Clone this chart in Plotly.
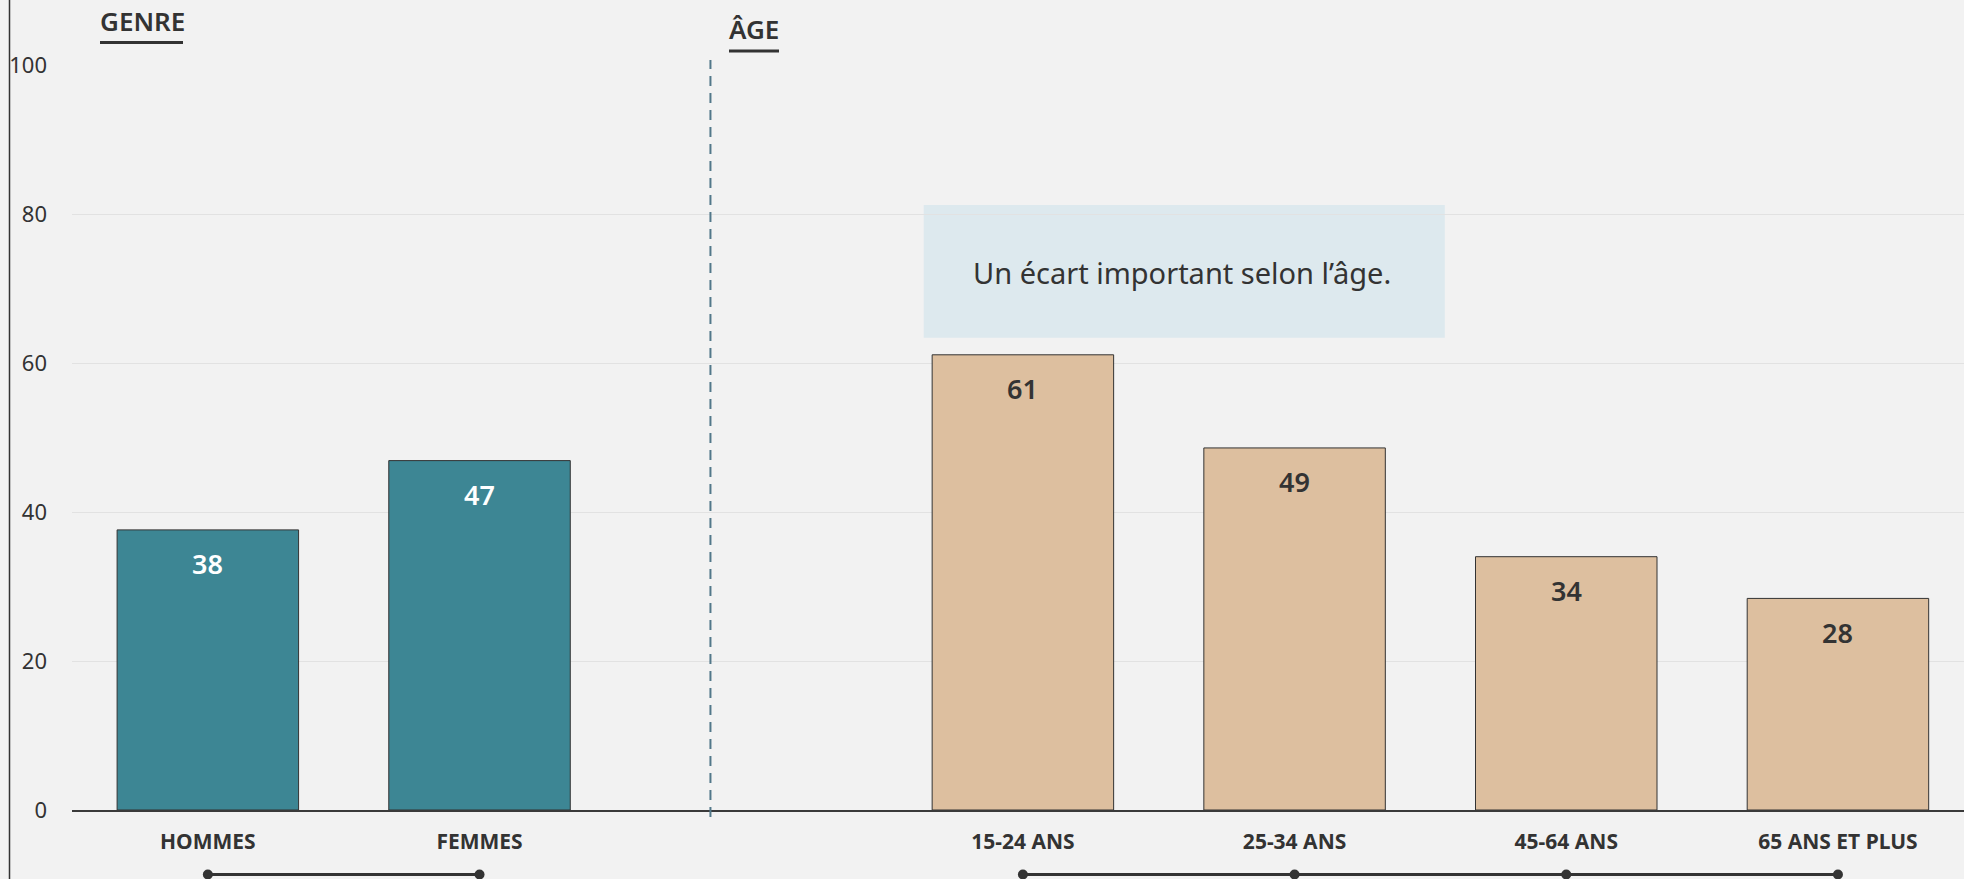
import plotly.graph_objects as go

# ---- data ----
gender_labels = ["HOMMES", "FEMMES"]
gender_values = [37.6, 46.9]
age_labels = ["15-24 ANS", "25-34 ANS", "45-64 ANS", "65 ANS ET PLUS"]
age_values = [61.1, 48.6, 34.0, 28.4]
y_ticks = [0, 20, 40, 60, 80, 100]
note_text = "Un écart important selon l’âge."

gender_pos = [0, 1]
age_pos = [3, 4, 5, 6]
sep_pos = 1.85

TEAL = "#3d8694"
BEIGE = "#ddbf9f"
DARK = "#333333"
BG = "#f2f2f2"
FONT = "Noto Sans"

W, H = 1964, 879
ML, MR, MT, MB = 72, 0, 65, 69
XR = [-0.5, 6.464]

fig = go.Figure()
fig.add_trace(go.Bar(x=gender_pos, y=gender_values, width=0.668,
                     marker=dict(color=TEAL, line=dict(color=DARK, width=1)),
                     hoverinfo="skip", showlegend=False))
fig.add_trace(go.Bar(x=age_pos, y=age_values, width=0.668,
                     marker=dict(color=BEIGE, line=dict(color=DARK, width=1)),
                     hoverinfo="skip", showlegend=False))

ann = []
for p, v in zip(gender_pos, gender_values):
    ann.append(dict(x=p, y=v, xref="x", yref="y", text=f"{v:.0f}", showarrow=False,
                    yanchor="middle", yshift=-34,
                    font=dict(family=FONT, size=27, color="white", weight=600)))
for p, v in zip(age_pos, age_values):
    ann.append(dict(x=p, y=v, xref="x", yref="y", text=f"{v:.0f}", showarrow=False,
                    yanchor="middle", yshift=-34,
                    font=dict(family=FONT, size=27, color=DARK, weight=600)))

plot_h = H - MT - MB
plot_w = W - ML - MR
def py(pix):  # pixel y -> paper
    return (H - MB - pix) / plot_h
def px(pix):
    return (pix - ML) / plot_w

# section headers
ann.append(dict(x=px(98), y=py(21), xref="paper", yref="paper", xanchor="left", yanchor="middle",
                text="GENRE", showarrow=False, font=dict(family=FONT, size=26, color=DARK, weight=600)))
ann.append(dict(x=px(727), y=py(29), xref="paper", yref="paper", xanchor="left", yanchor="middle",
                text="ÂGE", showarrow=False, font=dict(family=FONT, size=26, color=DARK, weight=600)))
# note
ann.append(dict(x=3.585, y=72.1, xref="x", yref="y", text=note_text, showarrow=False,
                xanchor="center", yanchor="middle", font=dict(family=FONT, size=29, color=DARK)))

shapes = []
# left border line
shapes.append(dict(type="line", xref="paper", yref="paper", x0=px(9.5), x1=px(9.5), y0=py(0), y1=py(H),
                   line=dict(color=DARK, width=1.5)))
# header underlines
shapes.append(dict(type="line", xref="paper", yref="paper", x0=px(100), x1=px(183), y0=py(42.5), y1=py(42.5),
                   line=dict(color=DARK, width=3)))
shapes.append(dict(type="line", xref="paper", yref="paper", x0=px(729), x1=px(779), y0=py(51), y1=py(51),
                   line=dict(color=DARK, width=3)))
# separator dashed line
shapes.append(dict(type="line", xref="x", yref="paper", x0=sep_pos, x1=sep_pos, y0=py(817), y1=py(60),
                   line=dict(color="#52788a", width=2, dash="10px,7px")))
# note box
shapes.append(dict(type="rect", xref="x", yref="y", x0=2.635, x1=4.553, y0=63.4, y1=81.2,
                   fillcolor="#dde9ee", line=dict(width=0), layer="below"))
# connectors
for group in (gender_pos, age_pos):
    shapes.append(dict(type="line", xref="x", yref="paper", x0=group[0], x1=group[-1],
                       y0=py(874.5), y1=py(874.5), line=dict(color=DARK, width=3)))
    for p in group:
        shapes.append(dict(type="circle", xref="x", yref="paper", xsizemode="pixel", ysizemode="pixel",
                           xanchor=p, yanchor=py(874.5), x0=-5, x1=5, y0=-5, y1=5,
                           fillcolor=DARK, line=dict(width=0)))

fig.update_layout(
    width=W, height=H, margin=dict(l=ML, r=MR, t=MT, b=MB, autoexpand=False),
    paper_bgcolor=BG, plot_bgcolor=BG,
    annotations=ann, shapes=shapes, barmode="overlay",
    xaxis=dict(range=XR, tickvals=gender_pos + age_pos, ticktext=gender_labels + age_labels,
               tickfont=dict(family=FONT, size=21, color=DARK, weight="bold"),
               showgrid=False, zeroline=False, showline=True, linecolor="#3a3a3a", linewidth=2,
               ticks="", ticklabelstandoff=12, fixedrange=True),
    yaxis=dict(range=[0, 100], tickvals=y_ticks, showgrid=True, gridcolor="#e2e2e2", gridwidth=1,
               zeroline=False, showline=False, ticks="", ticklabelstandoff=24,
               tickfont=dict(family=FONT, size=22, color=DARK), fixedrange=True),
)
fig.write_html("out.html", config={"displayModeBar": False},
               post_script="document.body.style.margin='0';document.body.style.background='#f2f2f2';")
